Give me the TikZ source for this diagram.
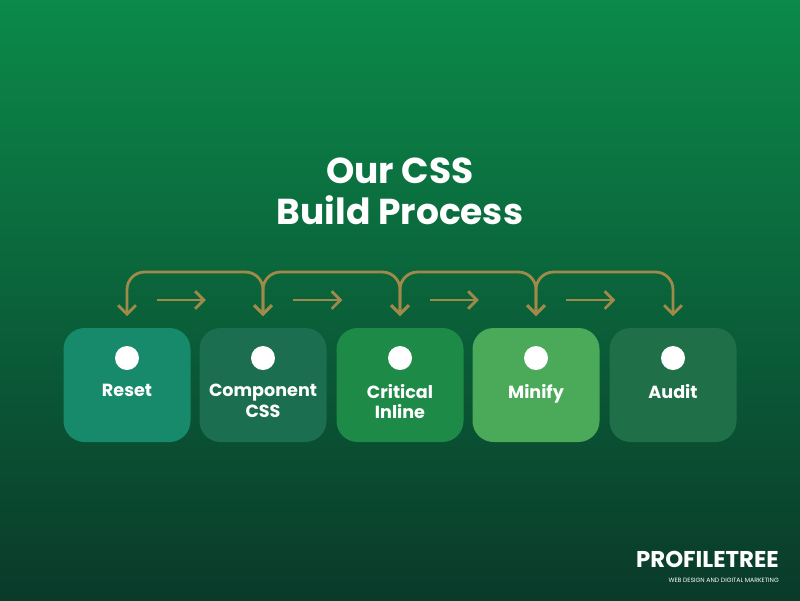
\documentclass[tikz,border=0pt]{standalone}
\usepackage{fontspec}
\setmainfont{Poppins}
\usetikzlibrary{positioning,arrows.meta,calc}
\definecolor{bgtop}{HTML}{0B8A4A}
\definecolor{bgbot}{HTML}{0A3A2A}
\definecolor{gold}{HTML}{A08A4A}
\definecolor{cReset}{HTML}{168A6A}
\definecolor{cComp}{HTML}{1B6E50}
\definecolor{cCrit}{HTML}{1E8A48}
\definecolor{cMini}{HTML}{4AAA5A}
\definecolor{cAudit}{HTML}{1F7048}
\tikzset{
  stage/.style={rounded corners=12pt,minimum width=127*0.02cm,minimum height=114*0.02cm,
    inner sep=0pt,text=white,font=\bfseries\fontsize{10}{11.5}\selectfont,align=center},
  dot/.style={circle,fill=white,minimum size=24*0.02cm,inner sep=0pt},
  flow/.style={draw=gold,line width=1.6pt,-{Straight Barb[length=5pt,width=10pt]}}
}
\begin{document}
\begin{tikzpicture}[x=0.02cm,y=-0.02cm]
		\shade[top color=bgtop,bottom color=bgbot] (0,0) rectangle (800,600);
		\useasboundingbox (0,0) rectangle (800,600);
		\node[text=white,font=\bfseries\fontsize{20.5}{23.5}\selectfont,align=center] (title) at (400,191) {Our CSS\\Build Process};
		% stages
		\foreach \n/\x/\c/\t in {reset/127/cReset/Reset,comp/263/cComp/Component\\CSS,crit/400/cCrit/Critical\\Inline,mini/536/cMini/Minify,audit/673/cAudit/Audit}{
			\node[stage,fill=\c] (\n) at (\x,385) {};
			\node[dot] (\n-dot) at (\x,358) {};
			\node[stage,fill=none,minimum height=0pt,minimum width=0pt,anchor=north] (\n-lbl) at (\x,384) {\t};
			\coordinate (\n-in) at (\x,316);
		}
		\foreach \a/\b in {reset/comp,comp/crit,crit/mini,mini/audit}{
			\draw[flow,{Straight Barb[length=5pt,width=10pt]}-{Straight Barb[length=5pt,width=10pt]},rounded corners=10pt]
				(\a-in) -- ($(\a-in)+(0,-44)$) -| (\b-in);
			\draw[flow] ($(\a-in)!0.22!(\b-in)+(0,-16)$) -- ($(\a-in)!0.58!(\b-in)+(0,-16)$);
		}
		% logo
		\node[text=white,font=\bfseries\fontsize{13}{13}\selectfont,anchor=east] (logo) at (785,559) {PROFILETREE};
		\node[text=white,font=\fontsize{3.5}{4}\selectfont,below=-1pt of logo.south east,anchor=north east] (tag) {WEB DESIGN AND DIGITAL MARKETING};
\end{tikzpicture}
\end{document}
